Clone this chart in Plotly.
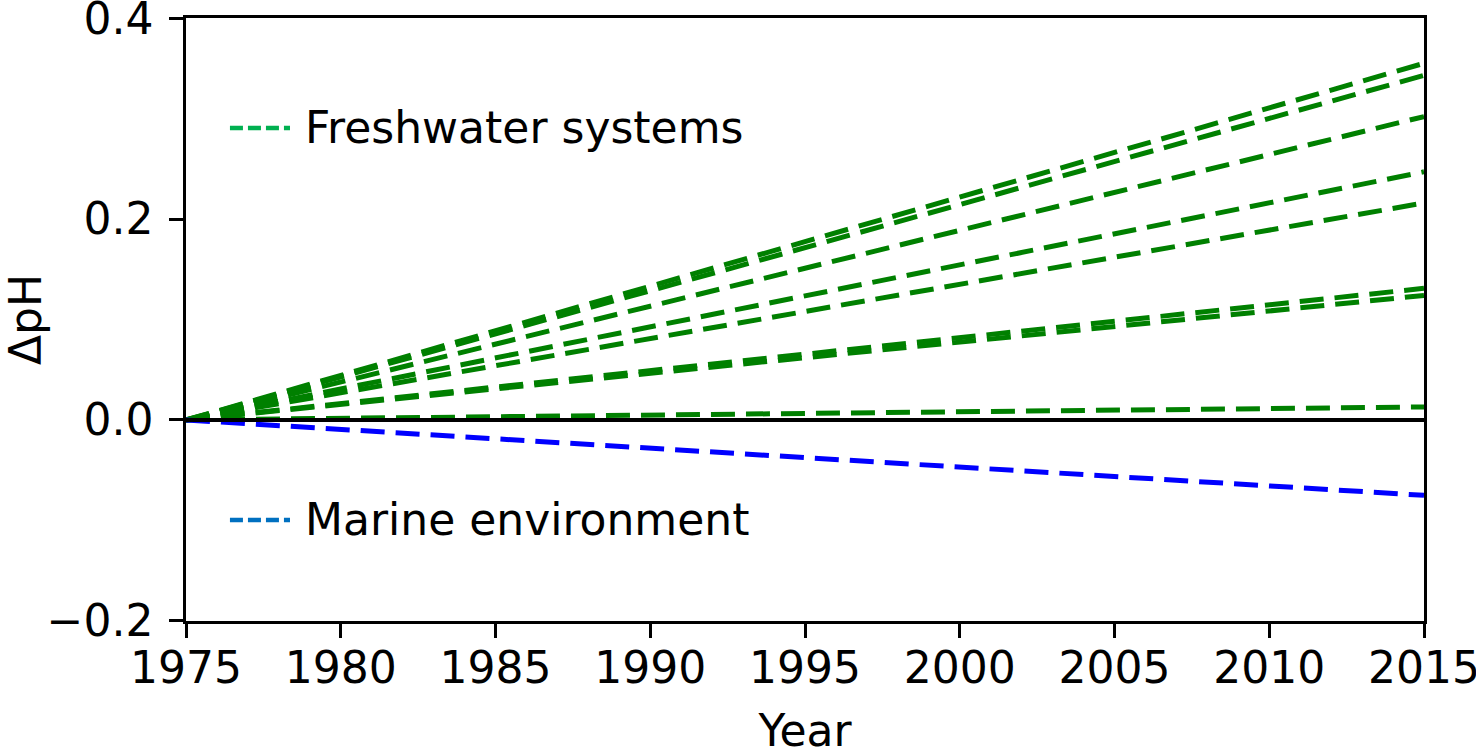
import plotly.graph_objects as go

# data (delta pH relative to 1975)
years = [1975, 2015]
fresh_end = [0.355, 0.343, 0.302, 0.247, 0.216, 0.131, 0.124, 0.013]
marine_end = [-0.075]
y_ticks = [-0.2, 0.0, 0.2, 0.4]
x_ticks = [1975, 1980, 1985, 1990, 1995, 2000, 2005, 2010, 2015]

FONT = "DejaVu Sans"
DASH = "24px,11px"

fig = go.Figure()

for end in fresh_end:
    fig.add_trace(go.Scatter(x=years, y=[0, end], mode="lines",
                             line=dict(color="#008000", width=5, dash=DASH),
                             showlegend=False, hoverinfo="skip"))

for end in marine_end:
    fig.add_trace(go.Scatter(x=years, y=[0, end], mode="lines",
                             line=dict(color="#0000ff", width=5, dash=DASH),
                             showlegend=False, hoverinfo="skip"))

# zero reference line
fig.add_trace(go.Scatter(x=years, y=[0, 0], mode="lines",
                         line=dict(color="black", width=4),
                         showlegend=False, hoverinfo="skip"))

# legend-like labels placed in the axes
labels = [("Freshwater systems", "#00b050", 0.8176),
          ("Marine environment", "#0070c0", 0.1675)]
for text, col, yp in labels:
    fig.add_shape(type="line", xref="paper", yref="paper",
                  x0=0.0355, x1=0.084, y0=yp, y1=yp,
                  line=dict(color=col, width=4.5, dash="13px,5px"))
    fig.add_annotation(text=text, xref="paper", yref="paper",
                       x=0.0945, y=yp, xanchor="left", yanchor="middle",
                       showarrow=False, font=dict(family=FONT, size=44, color="black"))

axis_style = dict(showline=True, linecolor="black", linewidth=2.5, mirror=True,
                  ticks="outside", ticklen=14, tickwidth=2.5, tickcolor="black",
                  showgrid=False, zeroline=False, automargin=False,
                  ticklabeloverflow="allow",
                  tickfont=dict(family=FONT, size=44, color="black"))

fig.update_xaxes(range=[1975, 2015], tickvals=x_ticks, ticklabelstandoff=-8,
                 title=dict(text="Year", font=dict(family=FONT, size=44, color="black"), standoff=32),
                 **axis_style)
fig.update_yaxes(range=[-0.2001, 0.4001], tickvals=y_ticks, tickformat=".1f",
                 ticklabelstandoff=7,
                 title=dict(text="ΔpH", font=dict(family=FONT, size=44, color="black"), standoff=40),
                 **axis_style)

fig.update_layout(width=1476, height=756, plot_bgcolor="white", paper_bgcolor="white",
                  margin=dict(l=186, r=52, t=18, b=135), showlegend=False)

# drop the default page margin so the figure fills the window like the original
fig.write_html("out.html", config={"displayModeBar": False},
               post_script="document.body.style.margin='0px';")
